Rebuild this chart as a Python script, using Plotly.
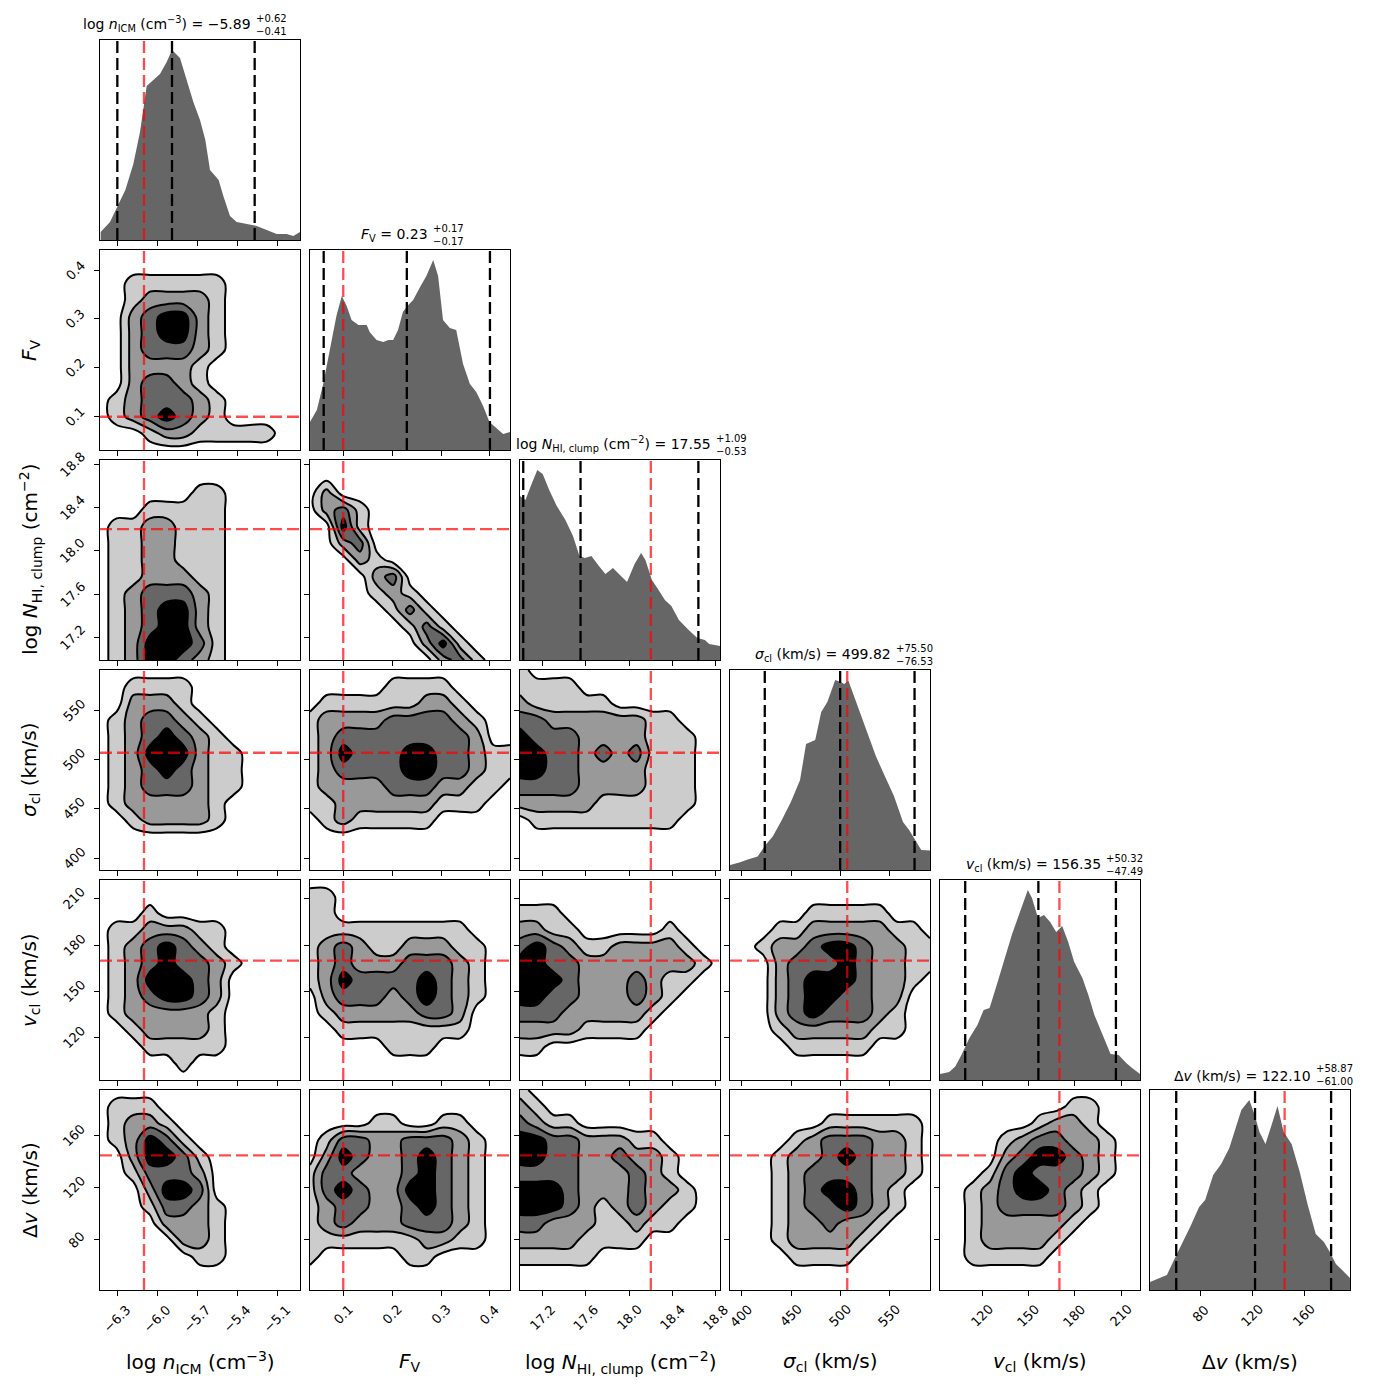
import numpy as np
import plotly.graph_objects as go

# ---- parameters (one per row / column of the corner plot) ----
labels = ["log <i>n</i><sub>ICM</sub> (cm<sup>−3</sup>)",
          "<i>F</i><sub>V</sub>",
          "log <i>N</i><sub>HI, clump</sub> (cm<sup>−2</sup>)",
          "<i>σ</i><sub>cl</sub> (km/s)",
          "<i>v</i><sub>cl</sub> (km/s)",
          "Δ<i>v</i> (km/s)"]
medians = ["−5.89", "0.23", "17.55", "499.82", "156.35", "122.10"]
err_plus = ["+0.62", "+0.17", "+1.09", "+75.50", "+50.32", "+58.87"]
err_minus = ["−0.41", "−0.17", "−0.53", "−76.53", "−47.49", "−61.00"]

axis_ranges = [[-6.43, -4.93], [0.032, 0.441], [16.99, 18.84],
               [388, 591], [92.5, 222.3], [40.8, 195.6]]
truths = [-6.1, 0.1, 18.2, 507, 170, 145]
q16 = [-6.30, 0.06, 17.02, 423.29, 108.86, 61.10]
q50 = [-5.89, 0.23, 17.55, 499.82, 156.35, 122.10]
q84 = [-5.27, 0.40, 18.64, 575.32, 206.67, 180.97]

tick_vals = [[-6.3, -6.0, -5.7, -5.4, -5.1], [0.1, 0.2, 0.3, 0.4],
             [17.2, 17.6, 18.0, 18.4, 18.8], [400, 450, 500, 550],
             [120, 150, 180, 210], [80, 120, 160]]
tick_text = [["−6.3", "−6.0", "−5.7", "−5.4", "−5.1"], ["0.1", "0.2", "0.3", "0.4"],
             ["17.2", "17.6", "18.0", "18.4", "18.8"], ["400", "450", "500", "550"],
             ["120", "150", "180", "210"], ["80", "120", "160"]]

# ---- 1D marginals (relative height) ----
logn_hist_x = [-6.425, -6.355, -6.305, -6.24, -6.18, -6.13, -6.08, -6.03, -5.98, -5.93, -5.89, -5.83,
               -5.78, -5.73, -5.68, -5.64, -5.605, -5.54, -5.505, -5.455, -5.405, -5.33, -5.255,
               -5.18, -5.105, -5.03, -4.98, -4.93]
logn_hist_y = [0.04, 0.09, 0.16, 0.25, 0.38, 0.54, 0.77, 0.80, 0.83, 0.89, 0.95, 0.91, 0.80, 0.69,
               0.60, 0.50, 0.35, 0.30, 0.22, 0.12, 0.09, 0.08, 0.07, 0.05, 0.03, 0.03, 0.02, 0.04]
fv_hist_x = [0.032, 0.046, 0.059, 0.073, 0.086, 0.097, 0.107, 0.117, 0.131, 0.148, 0.154, 0.168,
             0.182, 0.192, 0.202, 0.212, 0.222, 0.231, 0.243, 0.256, 0.270, 0.284, 0.294, 0.304,
             0.318, 0.331, 0.345, 0.359, 0.372, 0.386, 0.399, 0.413, 0.427, 0.441]
fv_hist_y = [0.14, 0.20, 0.33, 0.50, 0.67, 0.77, 0.72, 0.65, 0.625, 0.625, 0.59, 0.55, 0.54, 0.55,
             0.55, 0.60, 0.69, 0.72, 0.75, 0.81, 0.87, 0.95, 0.87, 0.65, 0.61, 0.60, 0.43, 0.33,
             0.29, 0.22, 0.14, 0.11, 0.08, 0.09]
nhi_hist_x = [16.99, 17.04, 17.09, 17.15, 17.20, 17.26, 17.33, 17.41, 17.48, 17.54, 17.59, 17.65,
              17.72, 17.78, 17.85, 17.92, 17.98, 18.05, 18.11, 18.15, 18.21, 18.26, 18.33, 18.39,
              18.46, 18.55, 18.63, 18.70, 18.74, 18.84]
nhi_hist_y = [0.82, 0.80, 0.87, 0.95, 0.93, 0.85, 0.77, 0.70, 0.62, 0.52, 0.51, 0.52, 0.47, 0.43,
              0.46, 0.42, 0.39, 0.48, 0.535, 0.50, 0.40, 0.36, 0.30, 0.27, 0.20, 0.15, 0.11, 0.10,
              0.08, 0.07]
sig_hist_x = [388, 397.5, 406.8, 416.0, 424.0, 431.4, 440.6, 449.8, 459.1, 465.2, 474.5, 480.6,
              486.8, 494.8, 500.3, 503.9, 508.3, 514.4, 520.6, 526.7, 536.0, 545.1, 554.4, 563.6,
              569.8, 576.0, 582.1, 591]
sig_hist_y = [0.025, 0.037, 0.054, 0.067, 0.125, 0.167, 0.25, 0.34, 0.45, 0.63, 0.65, 0.79, 0.84,
              0.95, 0.94, 0.93, 0.945, 0.86, 0.78, 0.69, 0.57, 0.47, 0.37, 0.24, 0.20, 0.15, 0.10,
              0.097]
vcl_hist_x = [92.5, 98.5, 102.4, 106.4, 111.6, 116.8, 120.8, 124.7, 129.9, 135.2, 139.1, 143.0,
              146.9, 149.5, 152.2, 156.1, 160.0, 164.0, 167.9, 171.8, 175.7, 179.6, 184.9, 188.8,
              192.7, 198.0, 203.2, 208.4, 213.7, 217.6, 222.3]
vcl_hist_y = [0.03, 0.04, 0.067, 0.125, 0.21, 0.275, 0.35, 0.36, 0.49, 0.625, 0.725, 0.81, 0.89,
              0.95, 0.91, 0.81, 0.825, 0.79, 0.74, 0.77, 0.69, 0.59, 0.51, 0.425, 0.325, 0.225,
              0.13, 0.125, 0.083, 0.058, 0.03]
dv_hist_x = [40.8, 47.7, 53.9, 60.1, 66.3, 72.6, 78.8, 83.5, 89.7, 95.9, 102.2, 106.8, 111.5,
             117.7, 121.8, 125.5, 130.2, 134.9, 139.5, 144.2, 150.4, 156.7, 162.9, 169.1, 175.4,
             180.0, 184.7, 191.0, 195.6]
dv_hist_y = [0.04, 0.06, 0.075, 0.16, 0.24, 0.325, 0.415, 0.45, 0.575, 0.63, 0.71, 0.81, 0.90,
             0.95, 0.875, 0.79, 0.73, 0.825, 0.92, 0.79, 0.73, 0.59, 0.425, 0.28, 0.24, 0.19, 0.13,
             0.09, 0.06]

# ---- 2D density levels (0 = outside, 4 = innermost), rows top -> bottom, 13x13 ----
grid_fv_logn = ["0000000000000", "0000000000000", "0011111100000", "0012222100000",
                "0023442100000", "0023442100000", "0023332100000", "0022221000000",
                "0023321000000", "0123332100000", "0123432100000", "0001221111100",
                "0000000000000"]
grid_nhi_logn = ["0000000000000", "0000000000000", "0000001100000", "0001111100000",
                 "0112211100000", "0112211100000", "0112211100000", "0112221100000",
                 "0123332100000", "0123442100000", "0123442100000", "0124443100000",
                 "0124432100000"]
grid_nhi_fv = ["0000000000000", "0000000000000", "0200000000000", "0231000000000",
               "0041000000000", "0023000000000", "0002100000000", "0000230000000",
               "0000121000000", "0000013100000", "0000001310000", "0000000241000",
               "0000000023100"]
grid_sig_logn = ["0000000000000", "0011110000000", "0022210000000", "0123321000000",
                 "0123432100000", "0124442110000", "0123432110000", "0123332110000",
                 "0122222100000", "0012222100000", "0000000000000", "0000000000000",
                 "0000000000000"]
grid_sig_fv = ["0000000000000", "0000011110000", "0111111221000", "1222233332100",
               "1233333333200", "1243334433211", "1233334433211", "1222233322110",
               "1122222211100", "0121111100000", "0000000000000", "0000000000000",
               "0000000000000"]
grid_sig_nhi = ["1000000000000", "1111000000000", "2111110000000", "3322222211000",
                "4333222211100", "4433232311100", "4433222211100", "3333222211100",
                "2222211111100", "0111111111000", "0000000000000", "0000000000000",
                "0000000000000"]
grid_vcl_logn = ["0000000000000", "0000000000000", "0001000000000", "0112221100000",
                 "0123432100000", "0123433210000", "0124443200000", "0123443200000",
                 "0122222100000", "0012222100000", "0001111100000", "0000010000000",
                 "0000000000000"]
grid_vcl_fv = ["0000000000000", "1100000000000", "1100000000000", "1111111111000",
               "1232112221100", "1232223332100", "1243333432100", "0233323432100",
               "0122222332000", "0011111111000", "0000011100000", "0000000000000",
               "0000000000000"]
grid_vcl_nhi = ["0000000000000", "0000000000000", "1110000000000", "2211000001000",
                "3432112222100", "4433222222210", "4443222321100", "4433222321000",
                "3332222210000", "2222111100000", "1100000000000", "0000000000000",
                "0000000000000"]
grid_vcl_sig = ["0000000000000", "0000000000000", "0000011111000", "0001122222110",
                "0012234432211", "0002333432211", "0002344432210", "0002344332200",
                "0002343332100", "0001222221100", "0000111110000", "0000000000000",
                "0000000000000"]
grid_dv_logn = ["0000000000000", "0111000000000", "0122100000000", "0124310000000",
                "0024431000000", "0013332000000", "0002443000000", "0001332100000",
                "0000222100000", "0000022100000", "0000001100000", "0000000000000",
                "0000000000000"]
grid_dv_fv = ["0000000000000", "0000000000000", "0000110011000", "0133223332100",
              "0243223432100", "1332223432100", "1343224432100", "1233223432100",
              "1232223332100", "1111111221100", "1000001100000", "0000000000000",
              "0000000000000"]
grid_dv_nhi = ["1000000000000", "2100000000000", "3211000000000", "4433222110000",
               "4433223221000", "3333222321000", "4443222322100", "4443212321100",
               "3322211211000", "2222111100000", "1111100000000", "0000000000000",
               "0000000000000"]
grid_dv_sig = ["0000000000000", "0000000000000", "0000001111110", "0000123332210",
               "0001223432210", "0001233332210", "0001234432100", "0001233432100",
               "0001223221000", "0001222210000", "0000111100000", "0000000000000",
               "0000000000000"]
grid_dv_vcl = ["0000000000000", "0000000011000", "0000001221000", "0000123322100",
               "0000234432100", "0001343332100", "0012344321000", "0012333321000",
               "0012222210000", "0012222100000", "0011111000000", "0000000000000",
               "0000000000000"]

hists = [(logn_hist_x, logn_hist_y), (fv_hist_x, fv_hist_y), (nhi_hist_x, nhi_hist_y),
         (sig_hist_x, sig_hist_y), (vcl_hist_x, vcl_hist_y), (dv_hist_x, dv_hist_y)]
grids = {(1, 0): grid_fv_logn,
         (2, 0): grid_nhi_logn, (2, 1): grid_nhi_fv,
         (3, 0): grid_sig_logn, (3, 1): grid_sig_fv, (3, 2): grid_sig_nhi,
         (4, 0): grid_vcl_logn, (4, 1): grid_vcl_fv, (4, 2): grid_vcl_nhi, (4, 3): grid_vcl_sig,
         (5, 0): grid_dv_logn, (5, 1): grid_dv_fv, (5, 2): grid_dv_nhi, (5, 3): grid_dv_sig,
         (5, 4): grid_dv_vcl}

# ---- layout constants (pixels in the target picture) ----
W = H = 1390
LEFT0, TOP0, PANEL, GAP = 100, 40, 200, 10
title_split = [253, 430, 713, 893, 1103, 1313]
FONT = "DejaVu Sans"
RED = "rgba(255,0,0,0.7)"
DASH = "12px,5px"
fill_scale = [[0, "rgba(255,255,255,0)"], [0.125, "rgba(255,255,255,0)"],
              [0.125, "#cccccc"], [0.375, "#cccccc"], [0.375, "#999999"], [0.625, "#999999"],
              [0.625, "#666666"], [0.875, "#666666"], [0.875, "#000000"], [1, "#000000"]]

# the page body adds a small offset; map target pixels to paper fractions
SCALE, SHIFT_X, SHIFT_Y = 1.0, 8.0, 8.0


def fx(px):
    return (px - SHIFT_X) / SCALE / W


def fy(py):
    return 1 - (py - SHIFT_Y) / SCALE / H


fig = go.Figure()
shapes, annotations, axes = [], [], {}
tick_font = dict(family=FONT, size=13, color="black")


def vline(xref, yref, x, color):
    return dict(type="line", xref=xref, yref=yref + " domain", x0=x, x1=x, y0=0, y1=1,
                line=dict(color=color, width=2.3, dash=DASH), layer="above")


def hline(xref, yref, y, color):
    return dict(type="line", xref=xref + " domain", yref=yref, x0=0, x1=1, y0=y, y1=y,
                line=dict(color=color, width=2.3, dash=DASH), layer="above")


n = 0
for r in range(6):
    for c in range(r + 1):
        n += 1
        sfx = "" if n == 1 else str(n)
        xr, yr = "x" + sfx, "y" + sfx
        left = LEFT0 + c * (PANEL + GAP)
        top = TOP0 + r * (PANEL + GAP)
        xdom = [fx(left), fx(left + PANEL)]
        ydom = [fy(top + PANEL), fy(top)]
        common = dict(showgrid=False, zeroline=False, showline=True, mirror=True,
                      linecolor="black", linewidth=1.2, ticks="outside", ticklen=5,
                      tickcolor="black", showticklabels=False, fixedrange=True)
        axes["xaxis" + sfx] = dict(common, domain=xdom, anchor=yr, range=axis_ranges[c],
                                   tickmode="array", tickvals=tick_vals[c])
        if r == 5:
            # matplotlib-style rotated labels, centred under each tick
            for v, t in zip(tick_vals[c], tick_text[c]):
                annotations.append(dict(text=t, x=v, y=fy(top + PANEL + 9), xref=xr,
                                        yref="paper", xanchor="center", yanchor="top",
                                        textangle=-45, showarrow=False, font=tick_font))
        if r == c:
            hx, hy = hists[c]
            fig.add_trace(go.Scatter(x=hx, y=hy, mode="lines", fill="tozeroy",
                                     fillcolor="#666666", line=dict(width=0, color="#666666"),
                                     xaxis=xr, yaxis=yr, hoverinfo="skip", showlegend=False))
            axes["yaxis" + sfx] = dict(common, domain=ydom, anchor=xr, range=[0, 1], ticks="")
            for q in (q16[c], q50[c], q84[c]):
                shapes.append(vline(xr, yr, q, "black"))
            shapes.append(vline(xr, yr, truths[c], RED))
            # title: main text + stacked errors
            annotations.append(dict(text=labels[c] + " = " + medians[c], x=fx(title_split[c]),
                                    y=fy(top - 4), xref="paper", yref="paper",
                                    xanchor="right", yanchor="bottom", showarrow=False,
                                    font=dict(family=FONT, size=14, color="black")))
            annotations.append(dict(text=err_plus[c] + "<br>" + err_minus[c],
                                    x=fx(title_split[c] + 1), y=fy(top - 1),
                                    xref="paper", yref="paper",
                                    xanchor="left", yanchor="bottom", align="left",
                                    showarrow=False,
                                    font=dict(family=FONT, size=10, color="black")))
        else:
            rows = grids[(r, c)]
            z = [[int(ch) for ch in row] for row in reversed(rows)]
            xs = np.linspace(axis_ranges[c][0], axis_ranges[c][1], len(rows[0]))
            ys = np.linspace(axis_ranges[r][0], axis_ranges[r][1], len(rows))
            fig.add_trace(go.Contour(x=xs, y=ys, z=z, xaxis=xr, yaxis=yr, zmin=0, zmax=4,
                                     autocontour=False,
                                     contours=dict(start=0.5, end=3.5, size=1, coloring="fill"),
                                     colorscale=fill_scale, showscale=False,
                                     line=dict(color="black", width=2, smoothing=1.0),
                                     hoverinfo="skip"))
            axes["yaxis" + sfx] = dict(common, domain=ydom, anchor=xr, range=axis_ranges[r],
                                       tickmode="array", tickvals=tick_vals[r])
            if c == 0:
                for v, t in zip(tick_vals[r], tick_text[r]):
                    annotations.append(dict(text=t, x=fx(left - 9), y=v, xref="paper",
                                            yref=yr, xanchor="right", yanchor="middle",
                                            textangle=-45, showarrow=False, font=tick_font))
            shapes.append(vline(xr, yr, truths[c], RED))
            shapes.append(hline(xr, yr, truths[r], RED))

# axis labels
for c in range(6):
    annotations.append(dict(text=labels[c], x=fx(LEFT0 + c * (PANEL + GAP) + PANEL / 2),
                            y=fy(1362), xref="paper", yref="paper", showarrow=False,
                            xanchor="center", yanchor="middle",
                            font=dict(family=FONT, size=20, color="black")))
for r in range(1, 6):
    annotations.append(dict(text=labels[r], x=fx(30),
                            y=fy(TOP0 + r * (PANEL + GAP) + PANEL / 2),
                            xref="paper", yref="paper", showarrow=False, textangle=-90,
                            xanchor="center", yanchor="middle",
                            font=dict(family=FONT, size=20, color="black")))

fig.update_layout(width=W, height=H, margin=dict(l=0, r=0, t=0, b=0),
                  paper_bgcolor="white", plot_bgcolor="white", showlegend=False,
                  shapes=shapes, annotations=annotations, **axes)
fig.write_html("out.html")
